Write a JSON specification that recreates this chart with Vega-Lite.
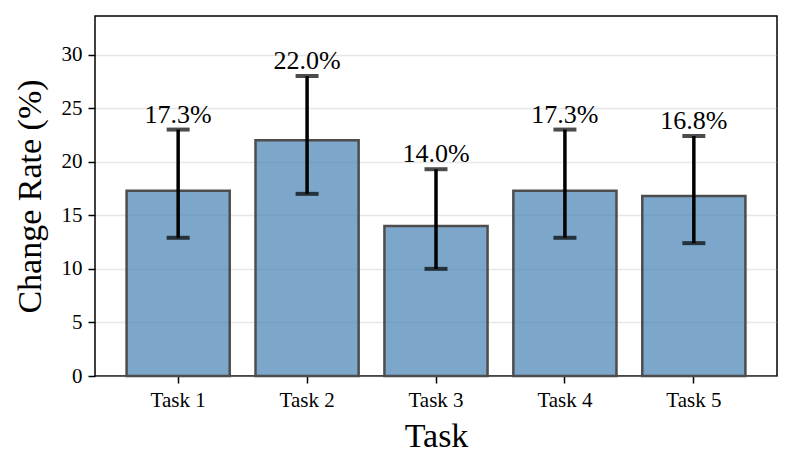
{
  "$schema": "https://vega.github.io/schema/vega-lite/v6.json",
  "width": 682,
  "height": 360,
  "autosize": "none",
  "padding": {"left": 95, "top": 16, "right": 15, "bottom": 93},
  "background": "white",
  "config": {
    "font": "Liberation Serif",
    "view": {"stroke": "black", "strokeWidth": 1.5},
    "axis": {
      "labelFont": "Liberation Serif",
      "titleFont": "Liberation Serif",
      "labelColor": "black",
      "titleColor": "black",
      "titleFontWeight": "normal",
      "domain": false,
      "tickColor": "black",
      "tickWidth": 1.5,
      "tickSize": 7
    }
  },
  "data": {
    "values": [
      {"task": "Task 1", "value": 17.3, "low": 12.9, "high": 23.0, "label": "17.3%"},
      {"task": "Task 2", "value": 22.0, "low": 17.0, "high": 28.0, "label": "22.0%"},
      {"task": "Task 3", "value": 14.0, "low": 10.0, "high": 19.3, "label": "14.0%"},
      {"task": "Task 4", "value": 17.3, "low": 12.9, "high": 23.0, "label": "17.3%"},
      {"task": "Task 5", "value": 16.8, "low": 12.4, "high": 22.4, "label": "16.8%"}
    ]
  },
  "encoding": {
    "x": {
      "field": "task",
      "type": "nominal",
      "sort": null,
      "scale": {"paddingInner": 0.2, "paddingOuter": 0.245},
      "axis": {
        "title": "Task",
        "labelAngle": 0,
        "labelFontSize": 21,
        "titleFontSize": 34,
        "labelPadding": 6,
        "titlePadding": 9,
        "grid": false
      }
    }
  },
  "layer": [
    {
      "mark": {"type": "bar", "fill": "steelblue", "fillOpacity": 0.7, "stroke": "#4d4d4d", "strokeWidth": 2.5},
      "encoding": {
        "y": {
          "field": "value",
          "type": "quantitative",
          "scale": {"domain": [0, 33.6], "nice": false},
          "axis": {
            "title": "Change Rate (%)",
            "values": [0, 5, 10, 15, 20, 25, 30],
            "labelFontSize": 21,
            "titleFontSize": 34,
            "labelPadding": 6,
            "titlePadding": 14,
            "grid": true,
            "gridColor": "#b0b0b0",
            "gridOpacity": 0.3,
            "gridWidth": 1.5
          }
        }
      }
    },
    {
      "mark": {"type": "rule", "color": "black", "strokeWidth": 3.5},
      "encoding": {
        "y": {"field": "low", "type": "quantitative"},
        "y2": {"field": "high"}
      }
    },
    {
      "mark": {"type": "tick", "color": "black", "size": 23, "thickness": 4},
      "encoding": {
        "y": {"field": "low", "type": "quantitative"}
      }
    },
    {
      "mark": {"type": "tick", "color": "black", "size": 23, "thickness": 4},
      "encoding": {
        "y": {"field": "high", "type": "quantitative"}
      }
    },
    {
      "mark": {"type": "text", "fontSize": 26, "baseline": "alphabetic", "dy": -7, "color": "black"},
      "encoding": {
        "y": {"field": "high", "type": "quantitative"},
        "text": {"field": "label"}
      }
    }
  ]
}
